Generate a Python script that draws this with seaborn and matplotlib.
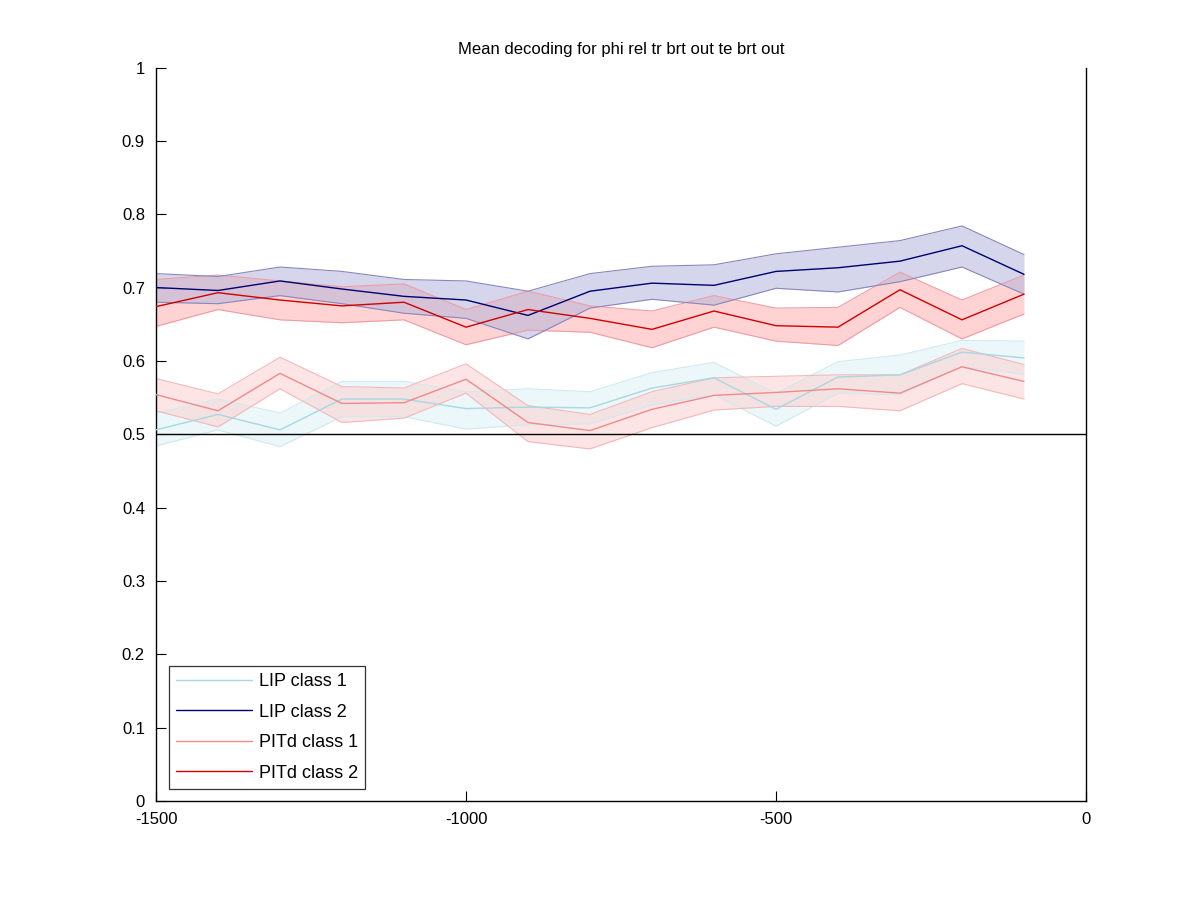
import numpy as np
import pandas as pd
import seaborn as sns
import matplotlib
matplotlib.use("Agg")
import matplotlib.pyplot as plt

# time bins (ms)
times = [-1500, -1400, -1300, -1200, -1100, -1000, -900, -800,
         -700, -600, -500, -400, -300, -200, -100]

lip1_mean = [0.506, 0.527, 0.506, 0.548, 0.548, 0.535, 0.537, 0.536,
             0.563, 0.577, 0.534, 0.578, 0.581, 0.612, 0.604]
lip1_upper = [0.529, 0.548, 0.529, 0.572, 0.572, 0.558, 0.562, 0.558,
              0.584, 0.598, 0.556, 0.599, 0.608, 0.628, 0.627]
lip1_lower = [0.484, 0.506, 0.483, 0.524, 0.524, 0.507, 0.513, 0.514,
              0.540, 0.554, 0.511, 0.556, 0.554, 0.592, 0.582]

lip2_mean = [0.700, 0.696, 0.709, 0.698, 0.688, 0.683, 0.662, 0.695,
             0.706, 0.703, 0.722, 0.727, 0.736, 0.757, 0.718]
lip2_upper = [0.719, 0.715, 0.728, 0.722, 0.711, 0.709, 0.695, 0.719,
              0.729, 0.731, 0.746, 0.755, 0.764, 0.784, 0.745]
lip2_lower = [0.680, 0.678, 0.689, 0.678, 0.665, 0.658, 0.630, 0.672,
              0.684, 0.676, 0.699, 0.694, 0.708, 0.728, 0.691]

pitd1_mean = [0.554, 0.532, 0.583, 0.542, 0.543, 0.575, 0.516, 0.505,
              0.534, 0.553, 0.557, 0.562, 0.556, 0.592, 0.572]
pitd1_upper = [0.576, 0.555, 0.605, 0.565, 0.563, 0.596, 0.539, 0.527,
               0.558, 0.577, 0.579, 0.581, 0.581, 0.617, 0.595]
pitd1_lower = [0.532, 0.510, 0.562, 0.516, 0.522, 0.556, 0.490, 0.480,
               0.509, 0.533, 0.538, 0.538, 0.532, 0.569, 0.548]

pitd2_mean = [0.674, 0.693, 0.683, 0.675, 0.680, 0.646, 0.670, 0.658,
              0.643, 0.668, 0.648, 0.646, 0.697, 0.656, 0.691]
pitd2_upper = [0.711, 0.717, 0.709, 0.701, 0.705, 0.670, 0.695, 0.675,
               0.668, 0.689, 0.672, 0.673, 0.721, 0.683, 0.717]
pitd2_lower = [0.647, 0.670, 0.656, 0.652, 0.656, 0.622, 0.642, 0.639,
               0.618, 0.646, 0.627, 0.621, 0.673, 0.630, 0.664]

labels = ["LIP class 1", "LIP class 2", "PITd class 1", "PITd class 2"]
means = [lip1_mean, lip2_mean, pitd1_mean, pitd2_mean]
uppers = [lip1_upper, lip2_upper, pitd1_upper, pitd2_upper]
lowers = [lip1_lower, lip2_lower, pitd1_lower, pitd2_lower]

line_colors = ["#a8d8e0", "#00006e", "#f08a8a", "#d00000"]
fill_colors = ["#d8f0f4", "#b4b4dc", "#fcd0d0", "#ffb0b0"]
fill_alpha = [0.5, 0.55, 0.55, 0.55]
edge_colors = ["#d0eaf0", "#8888bc", "#f4b8bc", "#f09ca4"]

df = pd.DataFrame({
    "time": times * 4,
    "acc": sum(means, []),
    "group": [lab for lab in labels for _ in times],
})

sns.set_style("white")
plt.rcParams["font.family"] = ["Liberation Sans", "DejaVu Sans"]
plt.rcParams["axes.unicode_minus"] = False
plt.rcParams["text.color"] = "black"

fig = plt.figure(figsize=(12, 9), dpi=100)
ax = fig.add_axes([0.13, 0.11, 0.775, 0.815])

order = [0, 2, 3, 1]
for i in order:
    ax.fill_between(times, lowers[i], uppers[i], color=fill_colors[i],
                    alpha=fill_alpha[i], linewidth=0, zorder=1)
    ax.plot(times, lowers[i], color=edge_colors[i], linewidth=0.8, zorder=1.5)
    ax.plot(times, uppers[i], color=edge_colors[i], linewidth=0.8, zorder=1.5)

sns.lineplot(data=df, x="time", y="acc", hue="group", hue_order=labels,
             palette=dict(zip(labels, line_colors)), linewidth=1.0,
             ax=ax, zorder=3)

ax.axhline(0.5, color="black", linewidth=1.0, zorder=4)

ax.set_xlim(-1500, 0)
ax.set_ylim(0, 1)
ax.set_xticks([-1500, -1000, -500, 0])
ax.set_yticks(np.round(np.arange(0, 1.01, 0.1), 1))
ax.set_yticklabels(["0", "0.1", "0.2", "0.3", "0.4", "0.5", "0.6", "0.7",
                    "0.8", "0.9", "1"])
ax.tick_params(direction="in", length=7, width=0.8, labelsize=12,
               colors="black", pad=8, left=True, bottom=True,
               right=False, top=False)
ax.set_xlabel("")
ax.set_ylabel("")
ax.set_title("Mean decoding for phi rel tr brt out te brt out", fontsize=12,
             pad=10, color="black")

for side in ["left", "bottom", "right"]:
    ax.spines[side].set_visible(True)
    ax.spines[side].set_color("black")
    ax.spines[side].set_linewidth(1.0)
ax.spines["top"].set_visible(False)

handles, hlabels = ax.get_legend_handles_labels()
leg = ax.legend(handles, hlabels, loc="lower left", fontsize=13,
                frameon=True, fancybox=False, handlelength=4.2,
                borderpad=0.4, labelspacing=0.75, handletextpad=0.4,
                bbox_to_anchor=(0.004, 0.004))
leg.get_frame().set_edgecolor("black")
leg.get_frame().set_linewidth(0.9)
for t in leg.get_texts():
    t.set_color("black")

fig.savefig("out.png", dpi=100, facecolor="white")
